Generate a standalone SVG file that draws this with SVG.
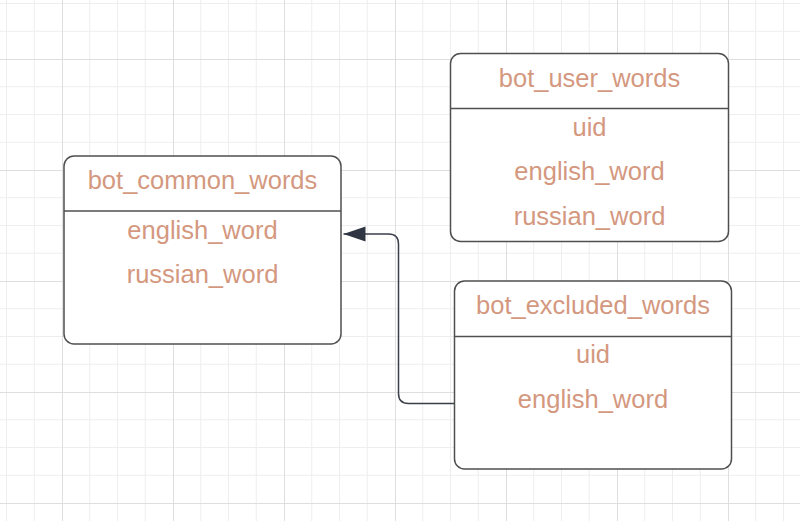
<svg xmlns="http://www.w3.org/2000/svg" width="800" height="521" viewBox="0 0 800 521">
<defs>
<pattern id="grid" patternUnits="userSpaceOnUse" x="62" y="59" width="111" height="111">
<path d="M27.75,0V111M55.5,0V111M83.25,0V111M0,27.75H111M0,55.5H111M0,83.25H111" stroke="#eeeeee" stroke-width="1" fill="none"/>
<path d="M0.5,0V111M0,0.5H111" stroke="#dedede" stroke-width="1" fill="none"/>
</pattern>
<marker id="arrow" markerUnits="userSpaceOnUse" markerWidth="24" markerHeight="16" refX="22" refY="7.5" orient="auto">
<path d="M0,0 L22,7.5 L0,15 Z" fill="#2f3542"/>
</marker>
</defs>
<style>
.box{fill:#ffffff;stroke:#4f4f4f;stroke-width:1.5}
.sep{stroke:#4f4f4f;stroke-width:1.5}
.t{font-family:"Liberation Sans",Arial,sans-serif;font-size:25.5px;fill:#d4987f;text-anchor:middle}
.conn{fill:none;stroke:#3a3f4a;stroke-width:1.5}
</style>
<rect x="0" y="0" width="800" height="521" fill="#ffffff"/>
<rect x="0" y="0" width="800" height="521" fill="url(#grid)"/>

<g id="connectors">
<path class="conn" d="M454,403.5 H408.5 Q398.5,403.5 398.5,393.5 V244 Q398.5,234 388.5,234 H343.5" marker-end="url(#arrow)"/>
</g>

<g id="bot_common_words">
<rect class="box" x="64" y="156" width="277" height="188" rx="10"/>
<line class="sep" x1="64" y1="211" x2="341" y2="211"/>
<text class="t" x="202.5" y="189">bot_common_words</text>
<text class="t" x="202.5" y="238.5">english_word</text>
<text class="t" x="202.5" y="283">russian_word</text>
</g>

<g id="bot_user_words">
<rect class="box" x="450.5" y="53.5" width="278" height="188" rx="10"/>
<line class="sep" x1="450.5" y1="108.5" x2="728.5" y2="108.5"/>
<text class="t" x="589.5" y="86.5">bot_user_words</text>
<text class="t" x="589.5" y="135.5">uid</text>
<text class="t" x="589.5" y="180">english_word</text>
<text class="t" x="589.5" y="224.5">russian_word</text>
</g>

<g id="bot_excluded_words">
<rect class="box" x="454.5" y="281" width="277" height="188" rx="10"/>
<line class="sep" x1="454.5" y1="336.5" x2="731.5" y2="336.5"/>
<text class="t" x="593" y="313.5">bot_excluded_words</text>
<text class="t" x="593" y="363">uid</text>
<text class="t" x="593" y="407.5">english_word</text>
</g>
</svg>
